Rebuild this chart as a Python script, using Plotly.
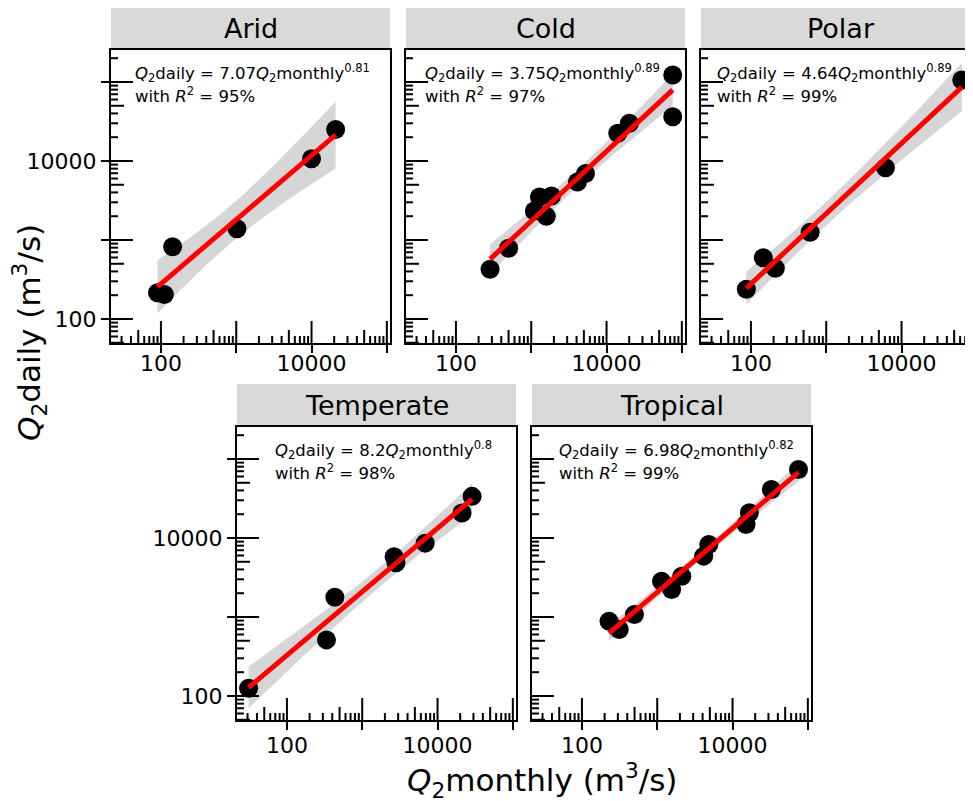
import numpy as np
import plotly.graph_objects as go

# ---------------- data ----------------
panel_names = ["Arid", "Cold", "Polar", "Temperate", "Tropical"]

arid_monthly = [90, 111, 143, 1023, 10000, 20900]
arid_daily = [215, 204, 822, 1390, 10700, 25100]

cold_monthly = [284, 501, 1100, 1285, 1855, 1585, 4110, 5250, 14100, 20100, 75700, 75700]
cold_daily = [426, 785, 2330, 3500, 3610, 1995, 5420, 6920, 22400, 30000, 122700, 36400]

polar_monthly = [87, 146, 211, 612, 6120, 63100]
polar_daily = [238, 597, 439, 1250, 8220, 105900]

temperate_monthly = [31, 335, 433, 2650, 2810, 6855, 21130, 28770]
temperate_daily = [125, 513, 1782, 5780, 4850, 8610, 20700, 33650]

tropical_monthly = [229, 313, 498, 1140, 1552, 2118, 4140, 4840, 15100, 16750, 32810, 75160]
tropical_daily = [885, 695, 1076, 2838, 2228, 3281, 5890, 8280, 14830, 20840, 41110, 73620]

eq_coef = ["7.07", "3.75", "4.64", "8.2", "6.98"]
eq_exp = ["0.81", "0.89", "0.89", "0.8", "0.82"]
eq_r2 = ["95%", "97%", "99%", "98%", "99%"]

tick_vals = [10, 100, 1000, 10000, 100000]
tick_text = ["", "100", "", "10000", ""]

monthly = [arid_monthly, cold_monthly, polar_monthly, temperate_monthly, tropical_monthly]
daily = [arid_daily, cold_daily, polar_daily, temperate_daily, tropical_daily]

# t(0.975, df) quantiles
T975 = {2: 4.303, 3: 3.182, 4: 2.776, 5: 2.571, 6: 2.447, 7: 2.365, 8: 2.306,
        9: 2.262, 10: 2.228, 11: 2.201, 12: 2.179}

# ---------------- layout geometry (pixels of the page) ----------------
OFF = 8                      # page body margin
FW, FH = 973 - OFF, 801 - OFF
PW, PH = 279, 293
STRIP_H = 43
boxes = [(111, 50), (406, 50), (701, 50), (237, 427), (532, 427)]
eq_offset = [22, 17, 14, 36, 25]
XMIN, XMAX = 1.337, 5.042
YMIN, YMAX = 1.696, 5.405
PX_DEC_X = PW / (XMAX - XMIN)
PX_DEC_Y = PH / (YMAX - YMIN)

FONT = "DejaVu Sans"


def fx(px):
    return (px - OFF) / FW


def fy(py):
    return 1 - (py - OFF) / FH


fig = go.Figure()
shapes = []
annotations = []

for i, name in enumerate(panel_names):
    k = i + 1
    xa = "x" if k == 1 else f"x{k}"
    ya = "y" if k == 1 else f"y{k}"
    L, T = boxes[i]
    right_px = min(L + PW, OFF + FW)
    Wd = right_px - L
    xmax = XMIN + Wd / PX_DEC_X

    x = np.array(monthly[i], dtype=float)
    y = np.array(daily[i], dtype=float)
    lx, ly = np.log10(x), np.log10(y)
    n = len(lx)
    b, a = np.polyfit(lx, ly, 1)
    res = ly - (a + b * lx)
    s = np.sqrt(np.sum(res ** 2) / (n - 2))
    xbar = lx.mean()
    sxx = np.sum((lx - xbar) ** 2)
    gx = np.linspace(lx.min(), lx.max(), 80)
    gy = a + b * gx
    se = s * np.sqrt(1.0 / n + (gx - xbar) ** 2 / sxx)
    tq = T975[n - 2]
    up = gy + tq * se
    lo = gy - tq * se

    # confidence band
    fig.add_trace(go.Scatter(
        x=np.concatenate([10 ** gx, 10 ** gx[::-1]]),
        y=np.concatenate([10 ** up, 10 ** lo[::-1]]),
        fill="toself", fillcolor="rgba(153,153,153,0.4)", line=dict(width=0),
        mode="lines", hoverinfo="skip", showlegend=False, xaxis=xa, yaxis=ya))
    # points
    fig.add_trace(go.Scatter(
        x=x, y=y, mode="markers", marker=dict(color="black", size=19, line=dict(width=0)),
        showlegend=False, xaxis=xa, yaxis=ya))
    # fitted line
    fig.add_trace(go.Scatter(
        x=10 ** gx, y=10 ** gy, mode="lines", line=dict(color="#FF0000", width=5),
        showlegend=False, xaxis=xa, yaxis=ya))

    # log ticks (inside, bottom and left)
    tx = {22: [], 13: [], 7: []}
    for dec in range(0, 7):
        for m in range(1, 10):
            lv = np.log10(m * 10 ** dec)
            ln = 22 if m == 1 else (13 if m == 5 else 7)
            tx[ln].append(lv)
    for ln, vals in tx.items():
        xs, ys = [], []
        for lv in vals:
            if XMIN < lv < xmax:
                xs += [10 ** lv, 10 ** lv, None]
                ys += [10 ** YMIN, 10 ** (YMIN + ln / PX_DEC_Y), None]
        for lv in vals:
            if YMIN < lv < YMAX:
                xs += [10 ** XMIN, 10 ** (XMIN + ln / PX_DEC_X), None]
                ys += [10 ** lv, 10 ** lv, None]
        fig.add_trace(go.Scatter(x=xs, y=ys, mode="lines", line=dict(color="black", width=2),
                                 hoverinfo="skip", showlegend=False, xaxis=xa, yaxis=ya,
                                 cliponaxis=False))

    dom_x = [fx(L), min(1.0, fx(L + PW))]
    dom_y = [fy(T + PH), fy(T)]
    show_y = i in (0, 3)
    axis_common = dict(type="log", showgrid=False, zeroline=False, showline=True,
                       linecolor="black", linewidth=2,
                       tickvals=tick_vals, ticktext=tick_text, tickcolor="black",
                       tickwidth=2, ticklen=8, tickfont=dict(family=FONT, size=22, color="black"))
    fig.update_layout(**{
        ("xaxis" if k == 1 else f"xaxis{k}"): dict(
            axis_common, domain=dom_x, range=[XMIN, xmax], anchor=ya, mirror=True,
            ticks="outside", ticklabelstandoff=(-8 if i < 3 else -3)),
        ("yaxis" if k == 1 else f"yaxis{k}"): dict(
            axis_common, domain=dom_y, range=[YMIN, YMAX], anchor=xa,
            mirror=(i != 2), ticks="outside" if show_y else "", showticklabels=show_y),
    })

    # strip
    shapes.append(dict(type="rect", xref="paper", yref="paper",
                       x0=fx(L), x1=fx(L + PW), y0=fy(T), y1=fy(T - STRIP_H),
                       fillcolor="#D9D9D9", line=dict(width=0), layer="below"))
    annotations.append(dict(text=name, xref="paper", yref="paper",
                            x=fx(L + PW / 2), y=fy(T - STRIP_H / 2),
                            xanchor="center", yanchor="middle", showarrow=False,
                            font=dict(family=FONT, size=27, color="black")))
    # equation
    line1 = (f"<i>Q</i><sub>2</sub>daily = {eq_coef[i]}<i>Q</i><sub>2</sub>monthly"
             f"<sup>{eq_exp[i]}</sup>")
    line2 = f"with <i>R</i><sup>2</sup> = {eq_r2[i]}"
    annotations.append(dict(text=line1, xref="paper", yref="paper",
                            x=fx(L + eq_offset[i]), y=fy(T + 23),
                            xanchor="left", yanchor="middle", showarrow=False,
                            font=dict(family=FONT, size=16.5, color="black")))
    annotations.append(dict(text=line2, xref="paper", yref="paper",
                            x=fx(L + eq_offset[i]), y=fy(T + 45),
                            xanchor="left", yanchor="middle", showarrow=False,
                            font=dict(family=FONT, size=16.5, color="black")))

# axis titles
annotations.append(dict(text="<i>Q</i><sub>2</sub>monthly (m<sup>3</sup>/s)",
                        xref="paper", yref="paper", x=fx(542), y=fy(780),
                        xanchor="center", yanchor="middle", showarrow=False,
                        font=dict(family=FONT, size=31, color="black")))
annotations.append(dict(text="<i>Q</i><sub>2</sub>daily (m<sup>3</sup>/s)",
                        xref="paper", yref="paper", x=fx(29), y=fy(333),
                        xanchor="center", yanchor="middle", showarrow=False, textangle=-90,
                        font=dict(family=FONT, size=31, color="black")))

fig.update_layout(width=FW, height=FH, margin=dict(l=0, r=0, t=0, b=0),
                  paper_bgcolor="white", plot_bgcolor="white",
                  shapes=shapes, annotations=annotations, showlegend=False,
                  font=dict(family=FONT, color="black"))

fig.write_html("out.html")
